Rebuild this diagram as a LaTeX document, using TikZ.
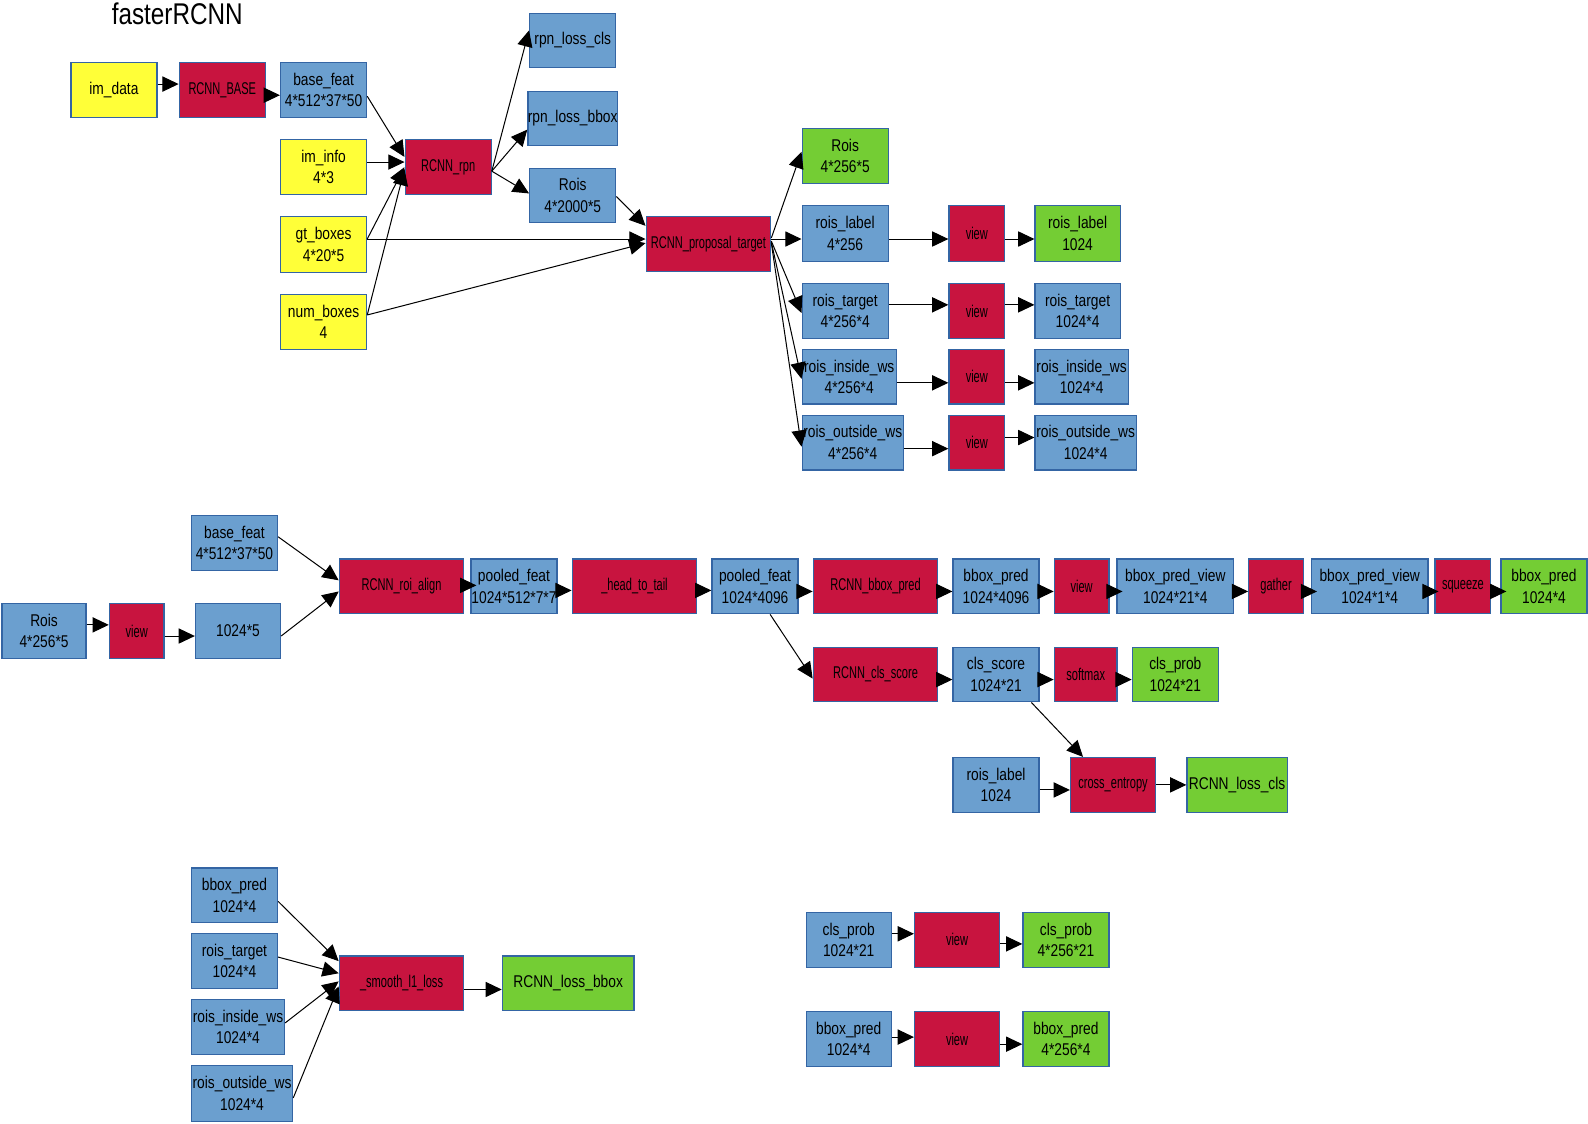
\documentclass[tikz,border=0pt]{standalone}
\usepackage{fontspec}
\setmainfont{Liberation Sans}[FakeStretch=0.81]
\newfontfamily\redfont{Liberation Sans}[FakeStretch=0.65]
\usetikzlibrary{arrows.meta,calc}
\definecolor{cblue}{HTML}{6B9FCF}
\definecolor{cred}{HTML}{C8143F}
\definecolor{cyel}{HTML}{FFFF38}
\definecolor{cgreen}{HTML}{74CD34}
\definecolor{cborder}{HTML}{3465A4}
\newcommand\placebox[7]{\node[#6, minimum width={(#4-#2)*0.5pt}, minimum height={(#5-#3)*0.5pt}] (#1) at ({(#2+#4)/2},{(#3+#5)/2}) {#7};}
\tikzset{
  box/.style={draw=cborder, line width=0.6pt, inner sep=0pt, align=center, font=\fontsize{8.4}{10.6}\selectfont},
  bbox/.style={box, fill=cblue},
  ybox/.style={box, fill=cyel},
  gbox/.style={box, fill=cgreen},
  rbox/.style={box, fill=cred, font=\redfont\fontsize{8.4}{10.6}\selectfont},
  arr/.style={-{Triangle[length=8pt,width=7.5pt]}, line width=0.5pt, black}
}
\begin{document}
\begin{tikzpicture}[x=0.5pt,y=-0.5pt]
\fill[white] (0,0) rectangle (1568,1109);
\useasboundingbox (0,0) rectangle (1568,1109);
\node[font=\fontsize{14.8}{16}\selectfont] (title) at (175,14) {fasterRCNN};
% row 1
\placebox{imdata}{70}{62}{155}{116}{ybox}{im\_data}
\placebox{base}{177}{62}{262}{116}{rbox}{RCNN\_BASE}
\placebox{bfeat}{277}{62}{362}{116}{bbox}{base\_feat\\4*512*37*50}
\placebox{iminfo}{277}{138}{362}{192}{ybox}{im\_info\\4*3}
\placebox{gtb}{277}{214}{362}{269}{ybox}{gt\_boxes\\4*20*5}
\placebox{numb}{277}{291}{362}{345}{ybox}{num\_boxes\\4}
\placebox{rpn}{400}{138}{485}{192}{rbox}{RCNN\_rpn}
\placebox{rlc}{523}{13}{608}{67}{bbox}{rpn\_loss\_cls}
\placebox{rlb}{523}{90}{608}{144}{bbox}{rpn\_loss\_bbox}
\placebox{rois}{523}{166}{608}{220}{bbox}{Rois\\4*2000*5}
\placebox{ptgt}{638}{214}{761}{268}{rbox}{RCNN\_proposal\_target}
\placebox{roisg}{792}{127}{877}{181}{gbox}{Rois\\4*256*5}
\placebox{rl}{792}{203}{877}{258}{bbox}{rois\_label\\4*256}
\placebox{va}{937}{203}{992}{258}{rbox}{view}
\placebox{rlg}{1022}{203}{1106}{258}{gbox}{rois\_label\\1024}
\placebox{rt}{792}{280}{877}{334}{bbox}{rois\_target\\4*256*4}
\placebox{vb}{937}{280}{992}{334}{rbox}{view}
\placebox{rtb}{1022}{280}{1106}{334}{bbox}{rois\_target\\1024*4}
\placebox{ri}{792}{345}{885}{399}{bbox}{rois\_inside\_ws\\4*256*4}
\placebox{vc}{937}{345}{992}{399}{rbox}{view}
\placebox{rib}{1022}{345}{1114}{399}{bbox}{rois\_inside\_ws\\1024*4}
\placebox{ro}{792}{410}{892}{464}{bbox}{rois\_outside\_ws\\4*256*4}
\placebox{vd}{937}{410}{992}{464}{rbox}{view}
\placebox{rob}{1022}{410}{1122}{464}{bbox}{rois\_outside\_ws\\1024*4}
% row 2
\placebox{bf2}{189}{509}{274}{563}{bbox}{base\_feat\\4*512*37*50}
\placebox{rois2}{2}{596}{85}{650}{bbox}{Rois\\4*256*5}
\placebox{ve}{108}{596}{162}{650}{rbox}{view}
\placebox{r5}{193}{596}{277}{650}{bbox}{1024*5}
\placebox{align}{335}{552}{458}{606}{rbox}{RCNN\_roi\_align}
\placebox{pf1}{465}{552}{550}{606}{bbox}{pooled\_feat\\1024*512*7*7}
\placebox{htt}{565}{552}{688}{606}{rbox}{\_head\_to\_tail}
\placebox{pf2}{703}{552}{788}{606}{bbox}{pooled\_feat\\1024*4096}
\placebox{bpred}{803}{552}{926}{606}{rbox}{RCNN\_bbox\_pred}
\placebox{bp}{941}{552}{1026}{606}{bbox}{bbox\_pred\\1024*4096}
\placebox{vf}{1041}{552}{1095}{606}{rbox}{view}
\placebox{bpv}{1103}{552}{1218}{606}{bbox}{bbox\_pred\_view\\1024*21*4}
\placebox{gath}{1233}{552}{1287}{606}{rbox}{gather}
\placebox{bpv2}{1295}{552}{1410}{606}{bbox}{bbox\_pred\_view\\1024*1*4}
\placebox{sq}{1417}{552}{1472}{606}{rbox}{squeeze}
\placebox{bpg}{1482}{552}{1567}{606}{gbox}{bbox\_pred\\1024*4}
\placebox{cls}{803}{639}{926}{693}{rbox}{RCNN\_cls\_score}
\placebox{cs}{941}{639}{1026}{693}{bbox}{cls\_score\\1024*21}
\placebox{smax}{1041}{639}{1103}{693}{rbox}{softmax}
\placebox{cp}{1118}{639}{1203}{693}{gbox}{cls\_prob\\1024*21}
\placebox{rl3}{941}{748}{1026}{802}{bbox}{rois\_label\\1024}
\placebox{ce}{1057}{748}{1141}{802}{rbox}{cross\_entropy}
\placebox{lcls}{1172}{748}{1271}{802}{gbox}{RCNN\_loss\_cls}
% row 3
\placebox{bp3}{189}{857}{274}{911}{bbox}{bbox\_pred\\1024*4}
\placebox{rt3}{189}{922}{274}{976}{bbox}{rois\_target\\1024*4}
\placebox{ri3}{189}{987}{281}{1041}{bbox}{rois\_inside\_ws\\1024*4}
\placebox{ro3}{189}{1052}{289}{1107}{bbox}{rois\_outside\_ws\\1024*4}
\placebox{sl1}{335}{944}{458}{998}{rbox}{\_smooth\_l1\_loss}
\placebox{lbb}{496}{944}{626}{998}{gbox}{RCNN\_loss\_bbox}
\placebox{cp4}{796}{901}{880}{955}{bbox}{cls\_prob\\1024*21}
\placebox{vg}{903}{901}{987}{955}{rbox}{view}
\placebox{cp5}{1010}{901}{1095}{955}{gbox}{cls\_prob\\4*256*21}
\placebox{bp4}{796}{999}{880}{1053}{bbox}{bbox\_pred\\1024*4}
\placebox{vh}{903}{999}{987}{1053}{rbox}{view}
\placebox{bp5}{1010}{999}{1095}{1053}{gbox}{bbox\_pred\\4*256*4}
% edges row 1
\draw[arr] (imdata.east|-0,83) -- (base.west|-0,83);
\draw[arr] (base.east|-0,94) -- (bfeat.west|-0,94);
\draw[arr] (bfeat.east|-0,95) -- (rpn.west|-0,155);
\draw[arr] (iminfo.east|-0,160) -- (rpn.west|-0,160);
\draw[arr] (gtb.east|-0,236) -- (rpn.west|-0,165);
\draw[arr] (numb.east|-0,311) -- (rpn.west|-0,167);
\draw[arr] (rpn.east|-0,169) -- (rlc.west|-0,30);
\draw[arr] (rpn.east|-0,169) -- (rlb.west|-0,128);
\draw[arr] (rpn.east|-0,169) -- (rois.west|-0,191);
\draw[arr] (rois.east|-0,194) -- (ptgt.west|-0,223);
\draw[arr] (gtb.east|-0,236) -- (ptgt.west|-0,236);
\draw[arr] (numb.east|-0,311) -- (ptgt.west|-0,240);
\draw[arr] (ptgt.east|-0,235) -- (roisg.west|-0,150);
\draw[arr] (ptgt.east|-0,236) -- (rl.west|-0,236);
\draw[arr] (ptgt.east|-0,238) -- (rt.west|-0,309);
\draw[arr] (ptgt.east|-0,239) -- (ri.west|-0,374);
\draw[arr] (ptgt.east|-0,240) -- (ro.west|-0,441);
\draw[arr] (rl.east|-0,236) -- (va.west|-0,236);
\draw[arr] (va.east|-0,236) -- (rlg.west|-0,236);
\draw[arr] (rt.east|-0,301) -- (vb.west|-0,301);
\draw[arr] (vb.east|-0,301) -- (rtb.west|-0,301);
\draw[arr] (ri.east|-0,378) -- (vc.west|-0,378);
\draw[arr] (vc.east|-0,378) -- (rib.west|-0,378);
\draw[arr] (ro.east|-0,443) -- (vd.west|-0,443);
\draw[arr] (vd.east|-0,432) -- (rob.west|-0,432);
% edges row 2
\draw[arr] (bf2.east|-0,530) -- (align.west|-0,573);
\draw[arr] (rois2.east|-0,617) -- (ve.west|-0,617);
\draw[arr] (ve.east|-0,628) -- (r5.west|-0,628);
\draw[arr] (r5.east|-0,628) -- (align.west|-0,584);
\draw[arr, shorten >=-3pt] (align.east|-0,578) -- (pf1.west|-0,578);
\draw[arr] (pf1.east|-0,583) -- (htt.west|-0,583);
\draw[arr] (htt.east|-0,583) -- (pf2.west|-0,583);
\draw[arr] (pf2.east|-0,584) -- (bpred.west|-0,584);
\draw[arr] (bpred.east|-0,584) -- (bp.west|-0,584);
\draw[arr] (bp.east|-0,584) -- (vf.west|-0,584);
\draw[arr, shorten >=-3pt] (vf.east|-0,584) -- (bpv.west|-0,584);
\draw[arr] (bpv.east|-0,584) -- (gath.west|-0,584);
\draw[arr, shorten >=-3pt] (gath.east|-0,584) -- (bpv2.west|-0,584);
\draw[arr, shorten >=-2pt] (bpv2.east|-0,584) -- (sq.west|-0,584);
\draw[arr, shorten >=-3pt] (sq.east|-0,584) -- (bpg.west|-0,584);
\draw[arr] ($(pf2.south west)+(58,0)$) -- (cls.west|-0,670);
\draw[arr] (cls.east|-0,671) -- (cs.west|-0,671);
\draw[arr] (cs.east|-0,671) -- (smax.west|-0,671);
\draw[arr] (smax.east|-0,671) -- (cp.west|-0,671);
\draw[arr] ($(cs.south west)+(78,0)$) -- ($(ce.north west)+(13,0)$);
\draw[arr] (rl3.east|-0,780) -- (ce.west|-0,780);
\draw[arr] (ce.east|-0,775) -- (lcls.west|-0,775);
% edges row 3
\draw[arr] (bp3.east|-0,890) -- (sl1.west|-0,949);
\draw[arr] (rt3.east|-0,945) -- (sl1.west|-0,961);
\draw[arr] (ri3.east|-0,1010) -- (sl1.west|-0,969);
\draw[arr] (ro3.east|-0,1084) -- (sl1.west|-0,974);
\draw[arr] (sl1.east|-0,977) -- (lbb.west|-0,977);
\draw[arr] (cp4.east|-0,922) -- (vg.west|-0,922);
\draw[arr] (vg.east|-0,932) -- (cp5.west|-0,932);
\draw[arr] (bp4.east|-0,1024) -- (vh.west|-0,1024);
\draw[arr] (vh.east|-0,1031) -- (bp5.west|-0,1031);
\end{tikzpicture}
\end{document}
